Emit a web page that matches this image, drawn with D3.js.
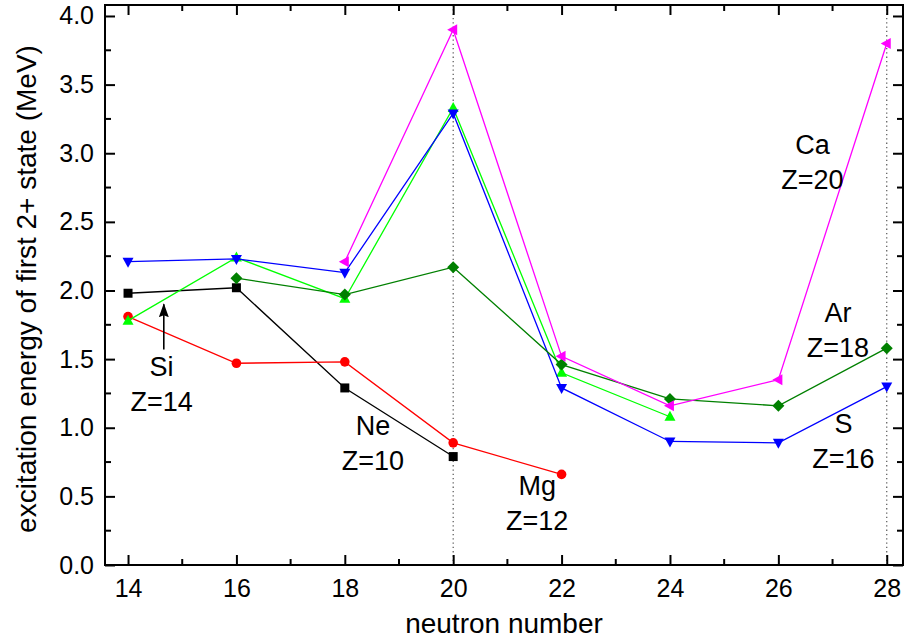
<!DOCTYPE html>
<html>
<head>
<meta charset="utf-8">
<script src="https://cdnjs.cloudflare.com/ajax/libs/d3/7.8.5/d3.min.js"></script>
<style>
  html, body { margin: 0; padding: 0; background: #fff; }
  svg { display: block; }
  text { font-family: "Liberation Sans", Arial, Helvetica, sans-serif; fill: #000; }
</style>
</head>
<body>
<svg id="chart" width="904" height="641"></svg>
<script>
// Neutron numbers on the x axis
const neutronNumbers = [14, 16, 18, 20, 22, 24, 26, 28];

// Excitation energy of the first 2+ state (MeV), one array per element; null = no point
const neValues = [1.98, 2.02, 1.29, 0.79, null, null, null, null];
const mgValues = [1.81, 1.47, 1.48, 0.89, 0.66, null, null, null];
const siValues = [1.78, 2.24, 1.94, 3.33, 1.40, 1.08, null, null];
const sValues  = [2.21, 2.23, 2.13, 3.29, 1.29, 0.90, 0.89, 1.30];
const arValues = [null, 2.09, 1.97, 2.17, 1.46, 1.21, 1.16, 1.58];
const caValues = [null, null, 2.21, 3.90, 1.52, 1.16, 1.35, 3.80];

// Tick labels
const xTickValues = [14, 16, 18, 20, 22, 24, 26, 28];
const yTickValues = [0.0, 0.5, 1.0, 1.5, 2.0, 2.5, 3.0, 3.5, 4.0];

// Magic numbers marked by dotted lines
const magicNumbers = [20, 28];

const series = [
  { name: "Ne", values: neValues, color: "#000000", symbol: "square" },
  { name: "Mg", values: mgValues, color: "#ff0000", symbol: "circle" },
  { name: "Si", values: siValues, color: "#00ff00", symbol: "triUp" },
  { name: "S",  values: sValues,  color: "#0000ff", symbol: "triDown" },
  { name: "Ar", values: arValues, color: "#008000", symbol: "diamond" },
  { name: "Ca", values: caValues, color: "#ff00ff", symbol: "triLeft" }
];

const W = 904, H = 641;
const margin = { left: 105, top: 5, right: 1, bottom: 76 };
const plotW = W - margin.left - margin.right;
const plotH = H - margin.top - margin.bottom;

const svg = d3.select("#chart");
const g = svg.append("g").attr("transform", `translate(${margin.left},${margin.top})`);

const x = d3.scaleLinear().domain([13.575, 28.3]).range([0, plotW]);
const y = d3.scaleLinear().domain([0, 4.08]).range([plotH, 0]);

// Dotted guides at the magic neutron numbers
g.selectAll("line.magic").data(magicNumbers).enter().append("line")
  .attr("class", "magic")
  .attr("x1", d => x(d)).attr("x2", d => x(d))
  .attr("y1", 0).attr("y2", plotH)
  .attr("stroke", "#555").attr("stroke-width", 1.2)
  .attr("stroke-dasharray", "1.3,3");

// Symbol shapes
function symbolPath(type, cx, cy) {
  switch (type) {
    case "square":
      return `M${cx - 4.5},${cy - 4.5}h9v9h-9z`;
    case "triUp":
      return `M${cx},${cy - 6}L${cx + 5.5},${cy + 4}L${cx - 5.5},${cy + 4}Z`;
    case "triDown":
      return `M${cx},${cy + 6}L${cx + 5.5},${cy - 4}L${cx - 5.5},${cy - 4}Z`;
    case "triLeft":
      return `M${cx - 6},${cy}L${cx + 4},${cy - 5.5}L${cx + 4},${cy + 5.5}Z`;
    case "diamond":
      return `M${cx},${cy - 6}L${cx + 6},${cy}L${cx},${cy + 6}L${cx - 6},${cy}Z`;
    default:
      return null;
  }
}

const line = d3.line()
  .defined(d => d.v !== null)
  .x(d => x(d.n))
  .y(d => y(d.v));

series.forEach(s => {
  const pts = neutronNumbers.map((n, i) => ({ n, v: s.values[i] }));
  g.append("path")
    .datum(pts)
    .attr("d", line)
    .attr("fill", "none")
    .attr("stroke", s.color)
    .attr("stroke-width", 1.3);
  const valid = pts.filter(p => p.v !== null);
  if (s.symbol === "circle") {
    g.selectAll(null).data(valid).enter().append("circle")
      .attr("cx", d => x(d.n)).attr("cy", d => y(d.v)).attr("r", 4.8)
      .attr("fill", s.color);
  } else {
    g.selectAll(null).data(valid).enter().append("path")
      .attr("d", d => symbolPath(s.symbol, x(d.n), y(d.v)))
      .attr("fill", s.color);
  }
});

// Frame with inward ticks on all four sides
const majorLen = 10, minorLen = 6;
const xMinor = d3.range(14, 28.5, 1).filter(v => v % 2 !== 0);
const yMinor = d3.range(0.25, 4.1, 0.5);

const bottomAxis = d3.axisBottom(x).tickValues(xTickValues).tickSize(-majorLen).tickPadding(14).tickFormat(d3.format("d"));
const topAxis = d3.axisTop(x).tickValues(xTickValues).tickSize(-majorLen).tickFormat("");
const leftAxis = d3.axisLeft(y).tickValues(yTickValues).tickSize(-majorLen).tickPadding(11).tickFormat(d3.format(".1f"));
const rightAxis = d3.axisRight(y).tickValues(yTickValues).tickSize(-majorLen).tickFormat("");

function styleAxis(sel, fontSize) {
  sel.select(".domain").remove();
  sel.selectAll(".tick line").attr("stroke", "#000").attr("stroke-width", 2);
  sel.selectAll(".tick text").attr("font-size", fontSize)
    .attr("font-family", "Liberation Sans, Arial, sans-serif").attr("fill", "#000");
}

g.append("g").attr("transform", `translate(0,${plotH})`).call(bottomAxis).call(s => styleAxis(s, 25));
g.append("g").call(topAxis).call(s => styleAxis(s, 25));
g.append("g").call(leftAxis).call(s => styleAxis(s, 25));
g.append("g").attr("transform", `translate(${plotW},0)`).call(rightAxis).call(s => styleAxis(s, 25));

// Minor ticks
const minorG = g.append("g");
xMinor.forEach(v => {
  minorG.append("line").attr("x1", x(v)).attr("x2", x(v)).attr("y1", plotH).attr("y2", plotH - minorLen);
  minorG.append("line").attr("x1", x(v)).attr("x2", x(v)).attr("y1", 0).attr("y2", minorLen);
});
yMinor.forEach(v => {
  minorG.append("line").attr("x1", 0).attr("x2", minorLen).attr("y1", y(v)).attr("y2", y(v));
  minorG.append("line").attr("x1", plotW).attr("x2", plotW - minorLen).attr("y1", y(v)).attr("y2", y(v));
});
minorG.selectAll("line").attr("stroke", "#000").attr("stroke-width", 2);

g.append("rect")
  .attr("x", 0).attr("y", 0).attr("width", plotW).attr("height", plotH)
  .attr("fill", "none").attr("stroke", "#000").attr("stroke-width", 2);

// Axis titles
svg.append("text")
  .attr("x", margin.left + plotW / 2).attr("y", 633)
  .attr("text-anchor", "middle").attr("font-size", 28)
  .text("neutron number");

svg.append("text")
  .attr("transform", `translate(36,${margin.top + plotH / 2 + 4}) rotate(-90)`)
  .attr("text-anchor", "middle").attr("font-size", 28)
  .text("excitation energy of first 2+ state (MeV)");

// Element labels
const labels = [
  { lines: ["Si", "Z=14"], n: 14.62, base: 376 },
  { lines: ["Ne", "Z=10"], n: 18.52, base: 435 },
  { lines: ["Mg", "Z=12"], n: 21.55, base: 495 },
  { lines: ["Ca", "Z=20"], n: 26.63, base: 154 },
  { lines: ["Ar", "Z=18"], n: 27.1, base: 322 },
  { lines: ["S", "Z=16"], n: 27.2, base: 433 }
];
labels.forEach(l => {
  const t = svg.append("text")
    .attr("text-anchor", "middle").attr("font-size", 27);
  l.lines.forEach((s, i) => {
    t.append("tspan")
      .attr("x", margin.left + x(l.n))
      .attr("y", l.base + i * 35)
      .text(s);
  });
});

// Arrow pointing at the Si curve
svg.append("defs").append("marker")
  .attr("id", "arrowhead")
  .attr("viewBox", "0 0 14 10")
  .attr("refX", 13).attr("refY", 5)
  .attr("markerWidth", 14).attr("markerHeight", 10)
  .attr("markerUnits", "userSpaceOnUse")
  .attr("orient", "auto")
  .append("path").attr("d", "M0,0L14,5L0,10L2,5Z").attr("fill", "#000");

svg.append("line")
  .attr("x1", margin.left + x(14.66)).attr("x2", margin.left + x(14.66))
  .attr("y1", margin.top + y(1.57)).attr("y2", margin.top + y(1.9))
  .attr("stroke", "#000").attr("stroke-width", 1.6)
  .attr("marker-end", "url(#arrowhead)");
</script>
</body>
</html>
